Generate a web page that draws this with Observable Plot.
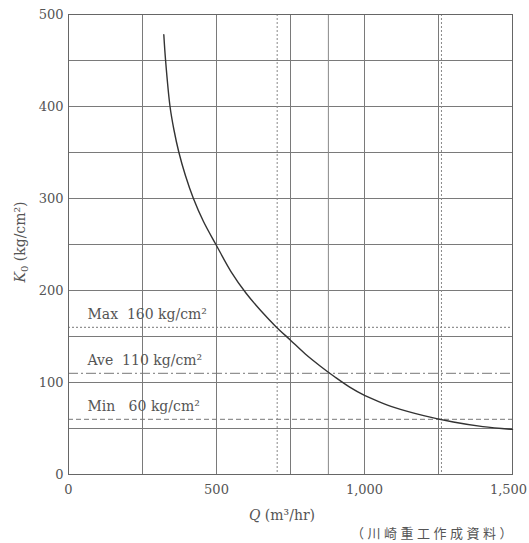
<!DOCTYPE html>
<html>
<head>
<meta charset="utf-8">
<script src="https://cdn.jsdelivr.net/npm/d3@7"></script>
<script src="https://cdn.jsdelivr.net/npm/@observablehq/plot@0.6"></script>
<style>
  html, body { margin: 0; padding: 0; background: #fff; }
</style>
</head>
<body>
<div id="chart"></div>
<script>
// Curve: K0 (kg/cm2) versus Q (m3/hr)
const curveQ = [322, 328, 343, 356, 373, 395, 422, 456, 498, 550, 600, 650, 700, 750, 800, 850, 900, 950, 1000, 1050, 1100, 1200, 1300, 1400, 1500];
const curveK = [478, 450, 400, 375, 350, 325, 300, 275, 250, 220, 197, 178, 161, 146, 131, 118, 106, 95, 86, 79, 73, 64, 57, 52, 49];

// Reference levels
const refNames = ["Max\u00a0 160 kg/cm²", "Ave\u00a0 110 kg/cm²", "Min\u00a0\u00a0 60 kg/cm²"];
const refK = [160, 110, 60];
const refQ = [705, 878, 1260];

// Ticks and grid
const xTicks = [0, 500, 1000];
const xTicksLast = [1500];
const yTicks = [0, 100, 200, 300, 400, 500];
const xGrid = [250, 500, 750, 1000, 1250];
const yGrid = [50, 100, 150, 200, 250, 300, 350, 400, 450];

const curve = curveQ.map((q, i) => ({Q: q, K: curveK[i]}));
const refs = refK.map((k, i) => ({name: refNames[i], K: k, Q: refQ[i]}));

const dashes = ["2,2", "10,3,2,3", "5,3"];
const vdashes = ["2,2", null, "2,2"];

const gridColor = "#7a7a7a";
const fmt = d3.format(",");

const chart = Plot.plot({
  width: 529,
  height: 543,
  marginLeft: 68,
  marginRight: 17,
  marginTop: 14,
  marginBottom: 69,
  style: {fontFamily: "'DejaVu Serif', serif", fontSize: "13px", color: "#444", background: "#fff", overflow: "visible"},
  x: {domain: [0, 1500]},
  y: {domain: [0, 500]},
  marks: [
    Plot.gridY(yGrid, {stroke: gridColor, strokeOpacity: 1}),
    Plot.gridX(xGrid, {stroke: gridColor, strokeOpacity: 1}),
    ...refs.map((r, i) => Plot.ruleY([r], {y: "K", stroke: "#777", strokeDasharray: dashes[i]})),
    ...refs.map((r, i) => Plot.ruleX([r], {x: "Q", stroke: "#888", strokeDasharray: vdashes[i] ?? undefined})),
    Plot.frame({stroke: "#666"}),
    Plot.axisX(xTicks, {tickSize: 0, tickPadding: 10, tickFormat: fmt, label: null, fill: "#555"}),
    Plot.axisX(xTicksLast, {tickSize: 0, tickPadding: 10, tickFormat: fmt, label: null, fill: "#555", dx: -4}),
    Plot.axisY(yTicks, {tickSize: 0, tickPadding: 5, label: null, fill: "#555"}),
    Plot.line(curve, {x: "Q", y: "K", curve: "catmull-rom", stroke: "#333", strokeWidth: 1.4}),
    Plot.text(refs, {x: 64, y: "K", text: "name", textAnchor: "start", dy: -13, fontSize: 14, fill: "#555", letterSpacing: "0.4px"})
  ]
});

const svg = d3.select(chart);

// x axis label: Q (m³/hr)
const xl = svg.append("text")
  .attr("x", 282).attr("y", 520)
  .attr("text-anchor", "middle")
  .attr("fill", "#555")
  .attr("font-size", 14)
  .attr("font-family", "'DejaVu Serif', serif");
xl.append("tspan").attr("font-style", "italic").text("Q");
xl.append("tspan").text(" (m³/hr)");

// y axis label: K0 (kg/cm²)
const yl = svg.append("text")
  .attr("transform", "translate(25,242) rotate(-90)")
  .attr("text-anchor", "middle")
  .attr("fill", "#555")
  .attr("font-size", 14)
  .attr("font-family", "'DejaVu Serif', serif");
yl.append("tspan").attr("font-style", "italic").text("K");
yl.append("tspan").attr("font-size", 10).attr("dy", 3).text("0");
yl.append("tspan").attr("dy", -3).text(" (kg/cm²)");

// source caption
svg.append("text")
  .attr("x", 516).attr("y", 538)
  .attr("text-anchor", "end")
  .attr("fill", "#555")
  .attr("font-size", 13)
  .attr("letter-spacing", "3.5px")
  .attr("font-family", "'Noto Sans CJK JP', sans-serif")
  .text("（川崎重工作成資料）");

document.getElementById("chart").appendChild(chart);
</script>
</body>
</html>
